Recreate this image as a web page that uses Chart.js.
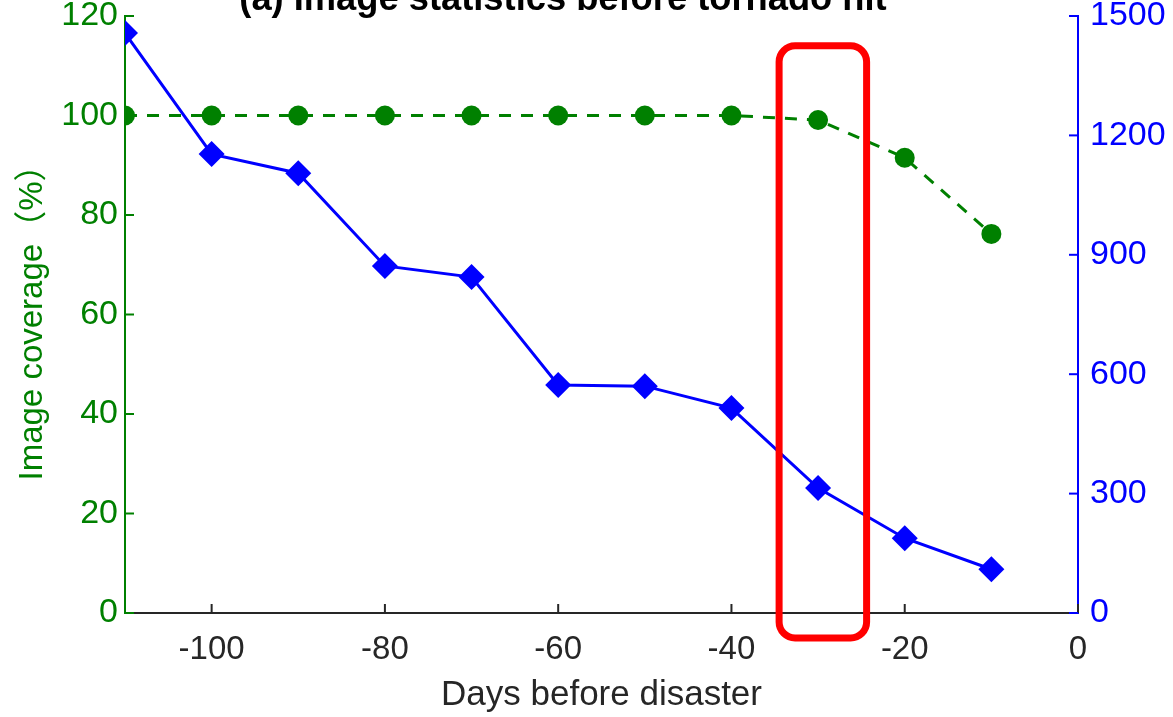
<!DOCTYPE html>
<html>
<head>
<meta charset="utf-8">
<script src="https://cdn.jsdelivr.net/npm/chart.js@4.4.0/dist/chart.umd.min.js"></script>
<style>
  html, body { margin: 0; padding: 0; background: #fff; }
  canvas { display: block; }
</style>
</head>
<body>
<canvas id="chart" width="1173" height="717"></canvas>
<script>
// data
const days = [-110, -100, -90, -80, -70, -60, -50, -40, -30, -20, -10];
const coverage = [100, 100, 100, 100, 100, 100, 100, 100, 99.1, 91.5, 76.2];
const imageCount = [1457, 1153, 1105, 872, 844, 573, 570, 515, 314, 188, 110];

const xTicks = [-100, -80, -60, -40, -20, 0];
const leftTicks = [0, 20, 40, 60, 80, 100, 120];
const rightTicks = [0, 300, 600, 900, 1200, 1500];

// highlight box around day -30 (data units)
const boxX = [-34.5, -24.4];
const boxY = [-5, 114];

const GREEN = '#008000';
const BLUE = '#0000ff';
const DARK = '#262626';
const FONT = 'Arial, "Liberation Sans", "Noto Sans CJK SC", sans-serif';

const toXY = (ys) => days.map((d, i) => ({ x: d, y: ys[i] }));

// fixed box sizes so the plot area lands where the original has it
const fitTo = (prop, size) => (s) => {
    s[prop] = size;
    s.paddingTop = 0; s.paddingBottom = 0;
    s.paddingLeft = 0; s.paddingRight = 0;
};

// MATLAB style inward ticks + title + red box
const extras = {
    id: 'extras',
    afterDraw(chart) {
        const ctx = chart.ctx;
        const { x, y, y1 } = chart.scales;
        const len = 9;
        ctx.save();
        ctx.lineWidth = 2;

        ctx.strokeStyle = DARK;
        xTicks.forEach(v => {
            const px = x.getPixelForValue(v);
            ctx.beginPath();
            ctx.moveTo(px, x.top);
            ctx.lineTo(px, x.top - len);
            ctx.stroke();
        });
        ctx.strokeStyle = GREEN;
        leftTicks.forEach(v => {
            const py = y.getPixelForValue(v);
            ctx.beginPath();
            ctx.moveTo(y.right, py);
            ctx.lineTo(y.right + len, py);
            ctx.stroke();
        });
        ctx.strokeStyle = BLUE;
        rightTicks.forEach(v => {
            const py = y1.getPixelForValue(v);
            ctx.beginPath();
            ctx.moveTo(y1.left, py);
            ctx.lineTo(y1.left - len, py);
            ctx.stroke();
        });

        // red rounded box
        const bx0 = x.getPixelForValue(boxX[0]);
        const bx1 = x.getPixelForValue(boxX[1]);
        const by0 = y.getPixelForValue(boxY[1]);
        const by1 = y.getPixelForValue(boxY[0]);
        ctx.strokeStyle = '#ff0000';
        ctx.lineWidth = 7;
        ctx.beginPath();
        ctx.roundRect(bx0, by0, bx1 - bx0, by1 - by0, 16);
        ctx.stroke();

        // title, cut off at the top like the original
        const title = '(a) Image statistics before tornado hit';
        ctx.fillStyle = '#000';
        ctx.font = 'bold 30px ' + FONT;
        const w = ctx.measureText(title).width;
        const size = 30 * 647 / w;
        ctx.font = 'bold ' + size.toFixed(1) + 'px ' + FONT;
        ctx.textAlign = 'center';
        ctx.textBaseline = 'alphabetic';
        ctx.fillText(title, 563, 10);
        ctx.restore();
    }
};

new Chart(document.getElementById('chart'), {
    type: 'line',
    data: {
        datasets: [
            {
                label: 'Image coverage',
                data: toXY(coverage),
                yAxisID: 'y',
                borderColor: GREEN,
                backgroundColor: GREEN,
                borderWidth: 3,
                borderDash: [12, 10],
                pointStyle: 'circle',
                pointRadius: 10,
                pointBorderWidth: 0,
                tension: 0
            },
            {
                label: 'Image count',
                data: toXY(imageCount),
                yAxisID: 'y1',
                borderColor: BLUE,
                backgroundColor: BLUE,
                borderWidth: 3,
                pointStyle: 'rectRot',
                pointRadius: 13,
                pointBorderWidth: 0,
                tension: 0
            }
        ]
    },
    options: {
        responsive: false,
        devicePixelRatio: 1,
        animation: false,
        layout: { padding: { top: 16, left: 0, right: 0, bottom: 0 } },
        plugins: {
            legend: { display: false },
            tooltip: { enabled: false }
        },
        scales: {
            x: {
                type: 'linear',
                min: -110,
                max: 0,
                afterBuildTicks: (s) => { s.ticks = xTicks.map(v => ({ value: v })); },
                afterFit: fitTo('height', 104),
                grid: { display: false, drawTicks: false },
                border: { display: true, color: DARK, width: 2 },
                ticks: { color: DARK, font: { family: FONT, size: 33 }, padding: 17, maxRotation: 0 },
                title: { display: true, text: 'Days before disaster', color: DARK,
                         font: { family: FONT, size: 35 }, padding: { top: 0, bottom: 1 } }
            },
            y: {
                position: 'left',
                min: 0,
                max: 120,
                afterBuildTicks: (s) => { s.ticks = leftTicks.map(v => ({ value: v })); },
                afterFit: fitTo('width', 125),
                grid: { display: false, drawTicks: false },
                border: { display: true, color: GREEN, width: 2 },
                ticks: { color: GREEN, font: { family: FONT, size: 34 }, padding: 7 },
                title: { display: true, text: 'Image coverage（%）', color: GREEN,
                         font: { family: FONT, size: 33 }, padding: { top: 13, bottom: 0 } }
            },
            y1: {
                position: 'right',
                min: 0,
                max: 1500,
                afterBuildTicks: (s) => { s.ticks = rightTicks.map(v => ({ value: v })); },
                afterFit: fitTo('width', 95),
                grid: { display: false, drawTicks: false },
                border: { display: true, color: BLUE, width: 2 },
                ticks: { color: BLUE, font: { family: FONT, size: 34 }, padding: 12,
                         callback: (v) => String(v) }
            }
        }
    },
    plugins: [extras]
});
</script>
</body>
</html>
